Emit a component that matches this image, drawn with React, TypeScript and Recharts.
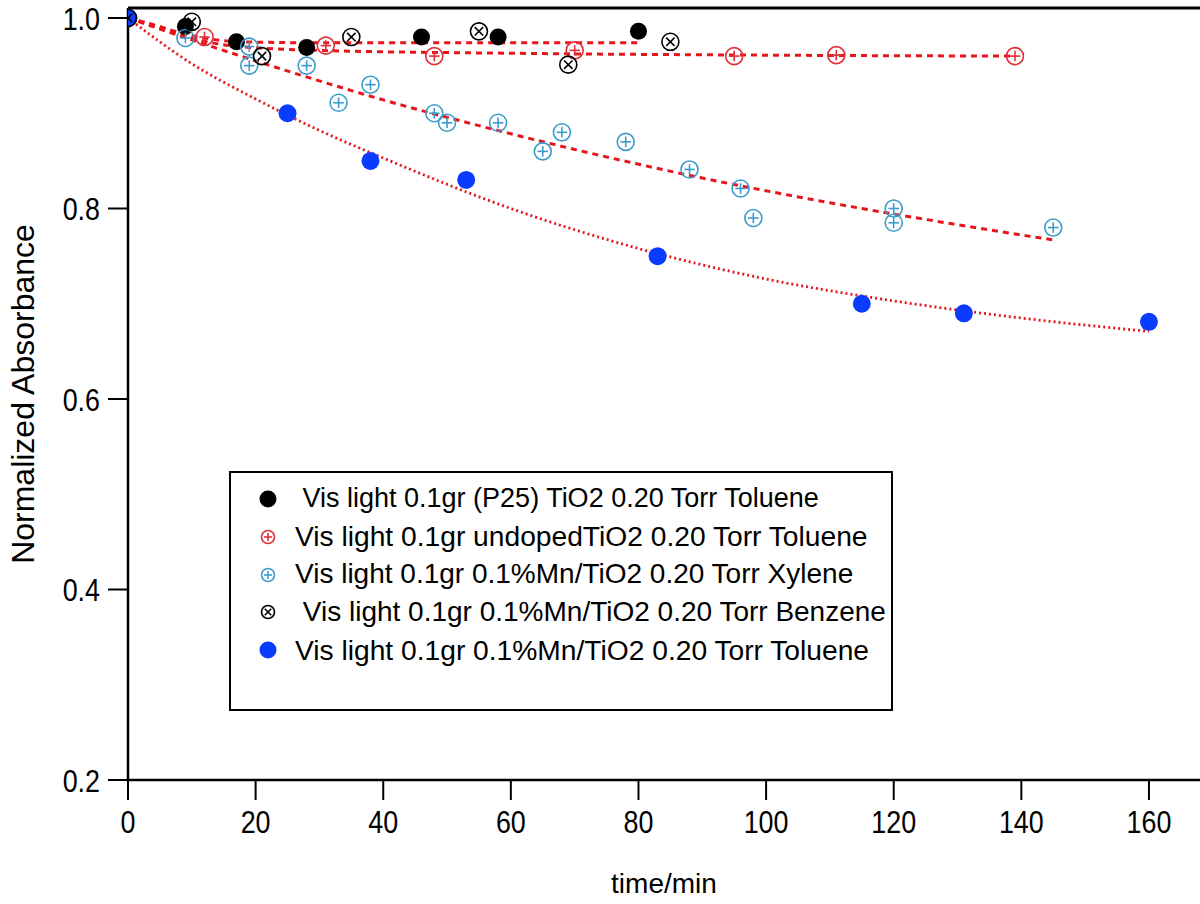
import React from 'react'
import {
  ComposedChart, Scatter, Line, XAxis, YAxis, Legend, ReferenceLine, Label,
} from 'recharts'

// measured points (time in min, normalized absorbance)
const p25Time = [0, 9, 17, 28, 46, 58, 80]
const p25Abs = [1.0, 0.991, 0.975, 0.969, 0.98, 0.98, 0.986]

const undopedTime = [0, 12, 31, 48, 70, 95, 111, 139]
const undopedAbs = [1.0, 0.98, 0.971, 0.96, 0.966, 0.96, 0.961, 0.96]

const xyleneTime = [0, 9, 19, 19, 28, 33, 38, 48, 50, 58, 65, 68, 78, 88, 96, 98, 120, 120, 145]
const xyleneAbs = [1.0, 0.979, 0.97, 0.95, 0.95, 0.911, 0.93, 0.9, 0.89, 0.89, 0.86, 0.88, 0.87, 0.841, 0.821, 0.79, 0.8, 0.785, 0.78]

const benzeneTime = [0, 10, 21, 35, 55, 69, 85]
const benzeneAbs = [1.0, 0.996, 0.96, 0.98, 0.986, 0.951, 0.975]

const mnTolTime = [0, 25, 38, 53, 83, 115, 131, 160]
const mnTolAbs = [1.0, 0.9, 0.85, 0.83, 0.75, 0.7, 0.69, 0.681]

// fitted curves
const p25FitTime = [0, 4, 8, 12, 18, 30, 50, 80]
const p25FitAbs = [1.0, 0.993, 0.985, 0.979, 0.975, 0.974, 0.974, 0.974]

const undopedFitTime = [0, 5, 10, 16, 30, 60, 100, 139]
const undopedFitAbs = [1.0, 0.99, 0.979, 0.971, 0.966, 0.963, 0.961, 0.96]

const xyleneFitTime = [0, 10, 20, 30, 40, 55, 70, 90, 110, 130, 145]
const xyleneFitAbs = [1.0, 0.977, 0.955, 0.934, 0.914, 0.887, 0.862, 0.832, 0.806, 0.783, 0.767]

const mnTolFitTime = [0, 10, 20, 30, 40, 60, 80, 100, 120, 140, 160]
const mnTolFitAbs = [1.0, 0.952, 0.915, 0.882, 0.853, 0.8, 0.758, 0.726, 0.703, 0.685, 0.671]

const xTicks = [0, 20, 40, 60, 80, 100, 120, 140, 160]
const yTicks = [0.2, 0.4, 0.6, 0.8, 1.0]

const legendNames = [
  ' Vis light 0.1gr (P25) TiO2 0.20 Torr Toluene',
  'Vis light 0.1gr undopedTiO2 0.20 Torr Toluene',
  'Vis light 0.1gr 0.1%Mn/TiO2 0.20 Torr Xylene',
  ' Vis light 0.1gr 0.1%Mn/TiO2 0.20 Torr Benzene',
  'Vis light 0.1gr 0.1%Mn/TiO2 0.20 Torr Toluene',
]
const legendFontSizes = [27, 28.2, 28, 28, 28.2]

const BLACK = '#000000'
const RED = '#e0303a'
const CYAN = '#3a9ccc'
const BLUE = '#0a3cff'
const FIT = '#e8141c'

const zip = (xs: number[], ys: number[]) => xs.map((x, i) => ({ x, y: ys[i] }))

const textFont = '"Liberation Sans", Arial, sans-serif'

type MarkKind = 'dot' | 'plus' | 'cross'
const legendKinds: MarkKind[] = ['dot', 'plus', 'plus', 'cross', 'dot']
const legendColors = [BLACK, RED, CYAN, BLACK, BLUE]

function Mark({ cx, cy, kind, color, r }: { cx: number; cy: number; kind: MarkKind; color: string; r: number }) {
  if (kind === 'dot') return <circle cx={cx} cy={cy} r={r} fill={color} />
  const d = r * 0.62
  return (
    <g stroke={color} strokeWidth={1.6} fill="none">
      <circle cx={cx} cy={cy} r={r} fill="rgba(255,255,255,0.01)" />
      {kind === 'plus' ? (
        <>
          <line x1={cx - d} y1={cy} x2={cx + d} y2={cy} />
          <line x1={cx} y1={cy - d} x2={cx} y2={cy + d} />
        </>
      ) : (
        <>
          <line x1={cx - d * 0.8} y1={cy - d * 0.8} x2={cx + d * 0.8} y2={cy + d * 0.8} />
          <line x1={cx - d * 0.8} y1={cy + d * 0.8} x2={cx + d * 0.8} y2={cy - d * 0.8} />
        </>
      )}
    </g>
  )
}

const shapeOf = (kind: MarkKind, color: string, r = 8.5) => (p: any) => (
  <Mark cx={p.cx} cy={p.cy} kind={kind} color={color} r={r} />
)

// tick labels in the picture are condensed
function XTick({ x, y, payload }: any) {
  return (
    <g transform={`translate(${x},${y})`}>
      <text transform="scale(0.84,1)" textAnchor="middle" dy="0.71em" fontSize={32}
        fontFamily={textFont} fill="#000">{payload.value}</text>
    </g>
  )
}

function YTick({ x, y, payload }: any) {
  return (
    <g transform={`translate(${x},${y})`}>
      <text transform="scale(0.84,1)" textAnchor="end" dy="0.36em" fontSize={32}
        fontFamily={textFont} fill="#000">{Number(payload.value).toFixed(1)}</text>
    </g>
  )
}

function LegendBox() {
  return (
    <div
      style={{
        width: 664, height: 240, boxSizing: 'border-box', border: '2.5px solid #000',
        background: '#fff', paddingTop: 7, fontFamily: textFont, color: '#000',
      }}
    >
      {legendNames.map((name, i) => (
        <div key={i} style={{ height: 37.8, display: 'flex', alignItems: 'center' }}>
          <svg width={64} height={38} style={{ flexShrink: 0 }}>
            <Mark cx={37} cy={19} kind={legendKinds[i]} color={legendColors[i]}
              r={legendKinds[i] === 'dot' ? 8.5 : 6.5} />
          </svg>
          <span style={{ whiteSpace: 'pre', fontSize: legendFontSizes[i] }}>{name}</span>
        </div>
      ))}
    </div>
  )
}

export default function App() {
  return (
    <div style={{ position: 'absolute', left: 0, top: 0, background: '#fff' }}>
      <ComposedChart width={1200} height={904} margin={{ top: 8, right: 0, left: 0, bottom: 0 }}>
        <XAxis
          dataKey="x"
          type="number"
          domain={[0, 168]}
          ticks={xTicks}
          allowDataOverflow
          height={124}
          tickSize={20}
          tickMargin={10}
          tick={<XTick />}
          tickLine={{ stroke: '#000', strokeWidth: 2 }}
          axisLine={{ stroke: '#000', strokeWidth: 2.5 }}
        >
          <Label
            content={(props: any) => {
              const vb = props.viewBox
              return (
                <text x={vb.x + vb.width / 2} y={vb.y + 113} textAnchor="middle"
                  fontSize={28} fontFamily={textFont} fill="#000">time/min</text>
              )
            }}
          />
        </XAxis>
        <YAxis
          dataKey="y"
          type="number"
          domain={[0.2, 1.0105]}
          ticks={yTicks}
          allowDataOverflow
          width={128}
          tickSize={20}
          tickMargin={8}
          tick={<YTick />}
          tickLine={{ stroke: '#000', strokeWidth: 2 }}
          axisLine={{ stroke: '#000', strokeWidth: 2.5 }}
        >
          <Label
            content={(props: any) => {
              const vb = props.viewBox
              const cy = vb.y + vb.height / 2
              return (
                <text x={23} y={cy} transform={`rotate(-90 23 ${cy})`} textAnchor="middle"
                  dominantBaseline="central" fontSize={32} fontFamily={textFont} fill="#000">
                  Normalized Absorbance
                </text>
              )
            }}
          />
        </YAxis>
        <ReferenceLine y={1.0105} stroke="#000" strokeWidth={3} ifOverflow="visible" />

        <Scatter data={zip(p25Time, p25Abs)} fill={BLACK} shape={shapeOf('dot', BLACK)} isAnimationActive={false} />
        <Scatter data={zip(undopedTime, undopedAbs)} fill={RED} shape={shapeOf('plus', RED)} isAnimationActive={false} />
        <Scatter data={zip(xyleneTime, xyleneAbs)} fill={CYAN} shape={shapeOf('plus', CYAN)} isAnimationActive={false} />
        <Scatter data={zip(mnTolTime, mnTolAbs)} fill={BLUE} shape={shapeOf('dot', BLUE, 9)} isAnimationActive={false} />
        <Scatter data={zip(benzeneTime, benzeneAbs)} fill={BLACK} shape={shapeOf('cross', BLACK)} isAnimationActive={false} />

        <Line data={zip(p25FitTime, p25FitAbs)} dataKey="y" type="monotone" stroke={FIT} strokeWidth={3}
          strokeDasharray="6 5" dot={false} activeDot={false} isAnimationActive={false} />
        <Line data={zip(undopedFitTime, undopedFitAbs)} dataKey="y" type="monotone" stroke={FIT} strokeWidth={3}
          strokeDasharray="6 5" dot={false} activeDot={false} isAnimationActive={false} />
        <Line data={zip(xyleneFitTime, xyleneFitAbs)} dataKey="y" type="monotone" stroke={FIT} strokeWidth={3}
          strokeDasharray="6 5" dot={false} activeDot={false} isAnimationActive={false} />
        <Line data={zip(mnTolFitTime, mnTolFitAbs)} dataKey="y" type="monotone" stroke={FIT} strokeWidth={2.8}
          strokeDasharray="2 3" dot={false} activeDot={false} isAnimationActive={false} />

        <Legend
          layout="vertical"
          align="center"
          verticalAlign="middle"
          content={() => <LegendBox />}
          wrapperStyle={{ left: 229, top: 471, width: 664, height: 240 }}
        />
      </ComposedChart>
    </div>
  )
}
